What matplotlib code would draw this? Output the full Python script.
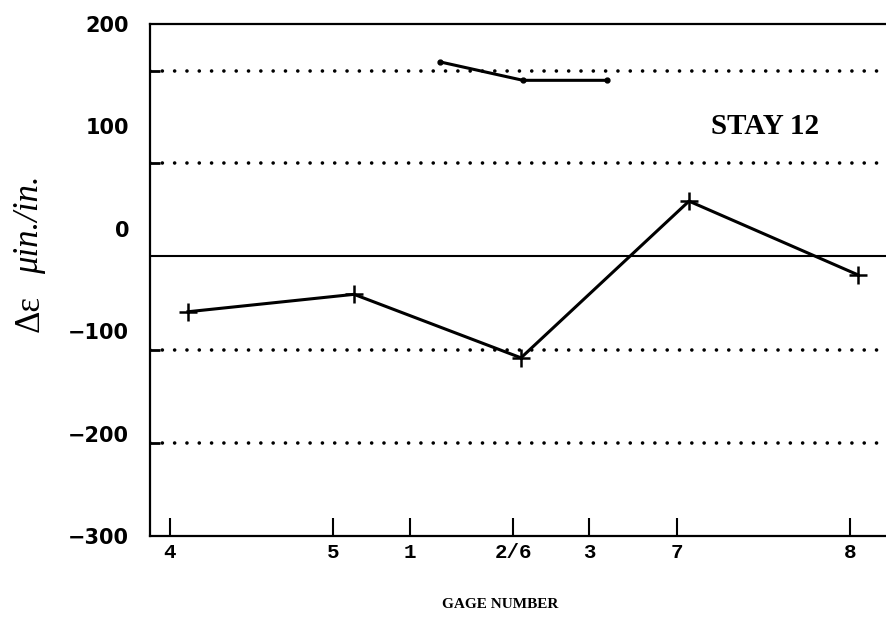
import numpy as np
import matplotlib.pyplot as plt

# gage locations along the stay (arbitrary length units)
gage_labels = ['4', '5', '1', '2/6', '3', '7', '8']
gage_pos = [2.0, 18.3, 26.0, 36.3, 43.9, 52.7, 70.0]

# lower trace (+ markers)
low_x = [3.8, 20.4, 37.1, 53.9, 70.8]
low_y = [-81, -64, -126, 27, -45]

# upper trace (short segment)
up_x = [29.0, 37.3, 45.7]
up_y = [163, 145, 145]

# reference lines
dotted_levels = [154, 64, -118, -209]
solid_level = -27

y_ticks = [200, 100, 0, -100, -200, -300]

fig = plt.figure(figsize=(8.86, 6.17), dpi=100)
ax = fig.add_axes([150/886, 1 - 536/617, (886 - 150)/886, (536 - 24)/617])

for lev in dotted_levels:
    ax.axhline(lev, color='black', lw=2.6, linestyle=(0, (0.01, 3.4)),
               dash_capstyle='round', zorder=1)
ax.axhline(solid_level, color='black', lw=1.5, zorder=1)

ax.plot(low_x, low_y, color='black', lw=2.2, marker='+', markersize=13,
        markeredgewidth=1.8, zorder=3)
ax.plot(up_x, up_y, color='black', lw=2.2, marker='o', markersize=3.5,
        solid_capstyle='round', zorder=3)

ax.set_xlim(0, 73.6)
ax.set_ylim(-300, 200)

ax.set_xticks(gage_pos)
ax.set_xticklabels(gage_labels, fontfamily='Liberation Mono', fontweight='bold', fontsize=15)
ax.tick_params(axis='x', direction='in', length=13, width=1.5, pad=5)

ax.set_yticks(y_ticks)
ax.set_yticklabels([str(v).replace('-', '\u2212') for v in y_ticks],
                   fontfamily='DejaVu Sans', fontweight='bold', fontsize=15)
ax.tick_params(axis='y', which='major', length=0, pad=15)
ax.set_yticks(dotted_levels, minor=True)
ax.tick_params(axis='y', which='minor', direction='in', length=7, width=2)

ax.spines['right'].set_visible(False)
for s in ['left', 'top', 'bottom']:
    ax.spines[s].set_linewidth(1.6)

ax.text(0.836, 0.8, 'STAY 12', transform=ax.transAxes, ha='center', va='center',
        fontfamily='Liberation Serif', fontweight='bold', fontsize=21)

fig.text(500/886, 1 - 604/617, 'GAGE NUMBER', ha='center', va='center',
         fontfamily='Liberation Serif', fontweight='bold', fontsize=11)

# y label: upright "Δε" followed by italic units
fig.text(30/886, 1 - 313/617, '\u0394\u03b5', rotation=90, ha='center', va='center',
         fontfamily='Liberation Serif', fontsize=25)
fig.text(30/886, 1 - 225/617, '\u03bcin./in.', rotation=90, ha='center', va='center',
         fontfamily='Liberation Serif', fontstyle='italic', fontsize=25)

plt.savefig('out.png', dpi=100)
